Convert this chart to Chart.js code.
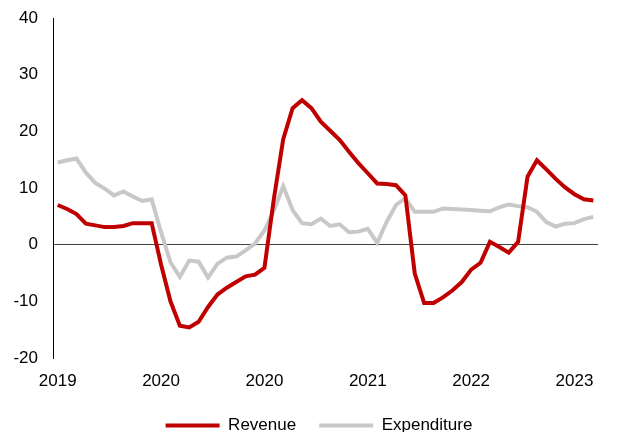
<!DOCTYPE html>
<html>
<head>
<meta charset="utf-8">
<script src="https://cdn.jsdelivr.net/npm/chart.js@4"></script>
<style>
  html, body { margin: 0; padding: 0; background: #fff; }
  #wrap { width: 617px; height: 432px; }
</style>
</head>
<body>
<div id="wrap"><canvas id="chart" width="617" height="432"></canvas></div>
<script>
// monthly observations, Feb 2019 .. Nov 2023
const categories = [
    "Feb-19", "Mar-19", "Apr-19", "May-19", "Jun-19", "Jul-19", "Aug-19", "Sep-19", "Oct-19", "Nov-19", "Dec-19",
    "Jan-20", "Feb-20", "Mar-20", "Apr-20", "May-20", "Jun-20", "Jul-20", "Aug-20", "Sep-20", "Oct-20", "Nov-20",
    "Dec-20", "Jan-21", "Feb-21", "Mar-21", "Apr-21", "May-21", "Jun-21", "Jul-21", "Aug-21", "Sep-21", "Oct-21",
    "Nov-21", "Dec-21", "Jan-22", "Feb-22", "Mar-22", "Apr-22", "May-22", "Jun-22", "Jul-22", "Aug-22", "Sep-22",
    "Oct-22", "Nov-22", "Dec-22", "Jan-23", "Feb-23", "Mar-23", "Apr-23", "May-23", "Jun-23", "Jul-23", "Aug-23",
    "Sep-23", "Oct-23", "Nov-23"
];
// one label every 11 months
const tickLabels = ["2019", "2020", "2020", "2021", "2022", "2023"];
const tickEvery = 11;

const revenue = [
    7.0, 6.3, 5.4, 3.7, 3.4, 3.1, 3.1, 3.3, 3.8, 3.8, 3.8,
    -3.5, -10.0, -14.3, -14.6, -13.6, -11.0, -8.8, -7.6, -6.6, -5.6, -5.3,
    -4.1, 8.0, 18.6, 24.1, 25.5, 24.1, 21.7, 20.1, 18.5, 16.4, 14.4,
    12.6, 10.8, 10.7, 10.5, 8.7, -5.1, -10.3, -10.3, -9.3, -8.1, -6.6,
    -4.4, -3.2, 0.5, -0.4, -1.4, 0.5, 12.0, 14.9, 13.3, 11.6, 10.1,
    8.9, 8.0, 7.8
];
const expenditure = [
    14.5, 14.9, 15.2, 12.7, 10.9, 9.9, 8.7, 9.4, 8.5, 7.7, 8.0,
    2.2, -3.1, -5.7, -2.8, -3.0, -5.8, -3.4, -2.3, -2.1, -1.0, 0.2,
    2.5, 6.0, 10.3, 6.1, 3.8, 3.6, 4.6, 3.3, 3.6, 2.2, 2.3,
    2.8, 0.3, 4.0, 7.0, 8.2, 5.8, 5.8, 5.8, 6.4, 6.3, 6.2,
    6.1, 6.0, 5.9, 6.6, 7.1, 6.8, 6.6, 5.8, 4.0, 3.2, 3.7,
    3.8, 4.5, 4.9
];

const yMin = -20, yMax = 40, yStep = 10;
const fontFamily = "'Liberation Sans', Arial, sans-serif";

Chart.defaults.font.family = fontFamily;
Chart.defaults.font.size = 17;
Chart.defaults.color = "#000";

// nudge the legend to the right, like the original
const legendShift = {
    id: "legendShift",
    afterLayout(chart) {
        chart.legend.left += 20;
        chart.legend.right += 20;
    }
};

new Chart(document.getElementById("chart").getContext("2d"), {
    type: "line",
    data: {
        labels: categories,
        datasets: [
            {
                label: "Revenue",
                data: revenue,
                borderColor: "#C00000",
                backgroundColor: "#C00000",
                borderWidth: 4,
                pointRadius: 0,
                tension: 0
            },
            {
                label: "Expenditure",
                data: expenditure,
                borderColor: "#C8C8C8",
                backgroundColor: "#C8C8C8",
                borderWidth: 4,
                pointRadius: 0,
                tension: 0
            }
        ]
    },
    plugins: [legendShift],
    options: {
        responsive: false,
        animation: false,
        layout: {
            padding: { top: 18, right: 19, bottom: -12, left: 0 }
        },
        plugins: {
            legend: {
                position: "bottom",
                labels: {
                    usePointStyle: true,
                    pointStyle: "line",
                    pointStyleWidth: 54,
                    padding: 23,
                    font: { size: 17 }
                }
            },
            tooltip: { enabled: false }
        },
        scales: {
            x: {
                offset: true,
                grid: { display: false, drawTicks: false },
                border: { display: false },
                ticks: {
                    autoSkip: false,
                    maxRotation: 0,
                    padding: 13,
                    callback: (v, i) => (i % tickEvery === 0 ? tickLabels[i / tickEvery] : "")
                },
                afterFit: (scale) => { scale.height = 36; }
            },
            y: {
                min: yMin,
                max: yMax,
                ticks: { stepSize: yStep, padding: 15 },
                grid: {
                    drawTicks: false,
                    color: (c) => (c.tick && c.tick.value === 0 ? "#404040" : "transparent"),
                    lineWidth: 1
                },
                border: { display: true, color: "#000", width: 1 },
                afterFit: (scale) => {
                    scale.width = 53;
                    scale.paddingTop = 0;
                    scale.paddingBottom = 0;
                }
            }
        }
    }
});
</script>
</body>
</html>
